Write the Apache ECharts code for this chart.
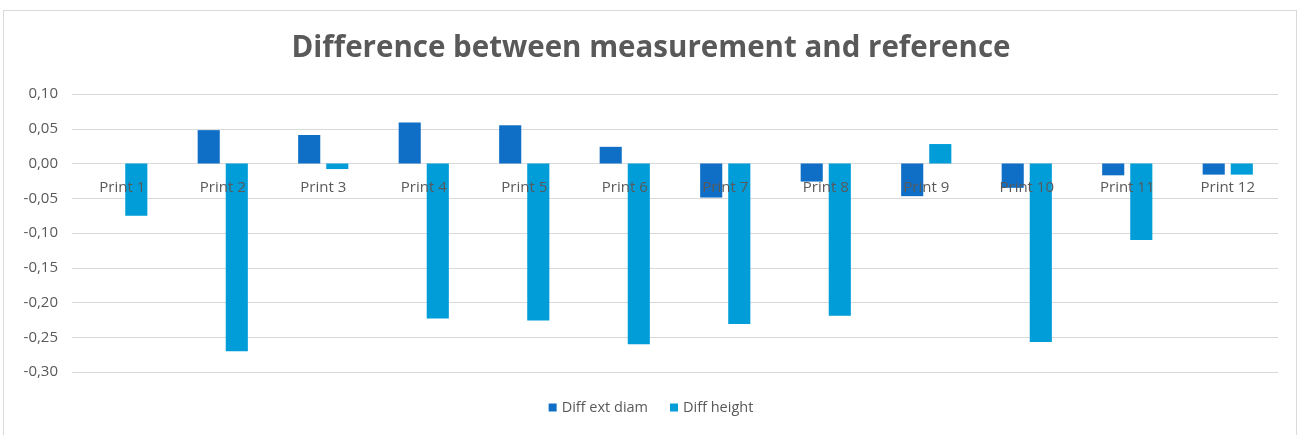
<!DOCTYPE html>
<html><head><meta charset="utf-8">
<script src="https://cdn.jsdelivr.net/npm/echarts@6/dist/echarts.min.js"></script>
<style>
html,body{margin:0;padding:0;background:#fff;}
#frame{position:absolute;left:3px;top:10px;width:1294px;height:430px;border:1px solid #d9d9d9;box-sizing:border-box;}
#main{position:absolute;left:0;top:0;width:1302px;height:435px;}
</style></head>
<body>
<div id="frame"></div>
<div id="main"></div>
<script>
const categories = ['Print 1','Print 2','Print 3','Print 4','Print 5','Print 6','Print 7','Print 8','Print 9','Print 10','Print 11','Print 12'];
const diffExtDiam = [0, 0.048, 0.041, 0.059, 0.055, 0.024, -0.049, -0.026, -0.047, -0.035, -0.017, -0.016];
const diffHeight = [-0.075, -0.270, -0.008, -0.223, -0.226, -0.260, -0.231, -0.219, 0.028, -0.257, -0.110, -0.016];
const seriesNames = ['Diff ext diam', 'Diff height'];
const titleText = 'Difference between measurement and reference';

const gridTop = 94, gridBottom = 63, H = 435;
const chart = echarts.init(document.getElementById('main'));
chart.setOption({
  animation: false,
  title: {
    text: titleText, left: 'center', top: 29,
    textStyle: {fontFamily: 'Open Sans', fontWeight: 'bold', fontSize: 29.5, color: '#595959'}
  },
  legend: {
    bottom: 15, left: 'center', itemWidth: 8, itemHeight: 8, itemGap: 22, icon: 'rect',
    textStyle: {fontFamily: 'Open Sans', fontSize: 14.5, color: '#595959'}
  },
  grid: {left: 72, right: 24, top: gridTop, bottom: gridBottom, containLabel: false},
  xAxis: {
    type: 'category', data: categories, z: 10,
    axisLine: {show: false, onZero: false},
    axisTick: {show: false},
    axisLabel: {fontFamily: 'Open Sans', fontSize: 15, color: '#595959', margin: 17, interval: 0}
  },
  yAxis: {
    type: 'value', min: -0.30, max: 0.10, interval: 0.05,
    axisLine: {show: false}, axisTick: {show: false},
    splitLine: {lineStyle: {color: '#d9d9d9', width: 1}},
    axisLabel: {fontFamily: 'Open Sans', fontSize: 15, color: '#595959', margin: 14,
      formatter: v => v.toFixed(2).replace('.', ',')}
  },
  series: [
    {name: seriesNames[0], type: 'bar', data: diffExtDiam, barWidth: '22%', barGap: '27%', itemStyle: {color: '#0F6FC6'}},
    {name: seriesNames[1], type: 'bar', data: diffHeight, barWidth: '22%', itemStyle: {color: '#009DD9'}}
  ]
});
// place the category axis on the zero line
const zeroY = chart.convertToPixel({yAxisIndex: 0}, 0);
const axisBottomY = H - gridBottom;
chart.setOption({xAxis: {offset: -(axisBottomY - zeroY)}});
</script>
</body></html>
